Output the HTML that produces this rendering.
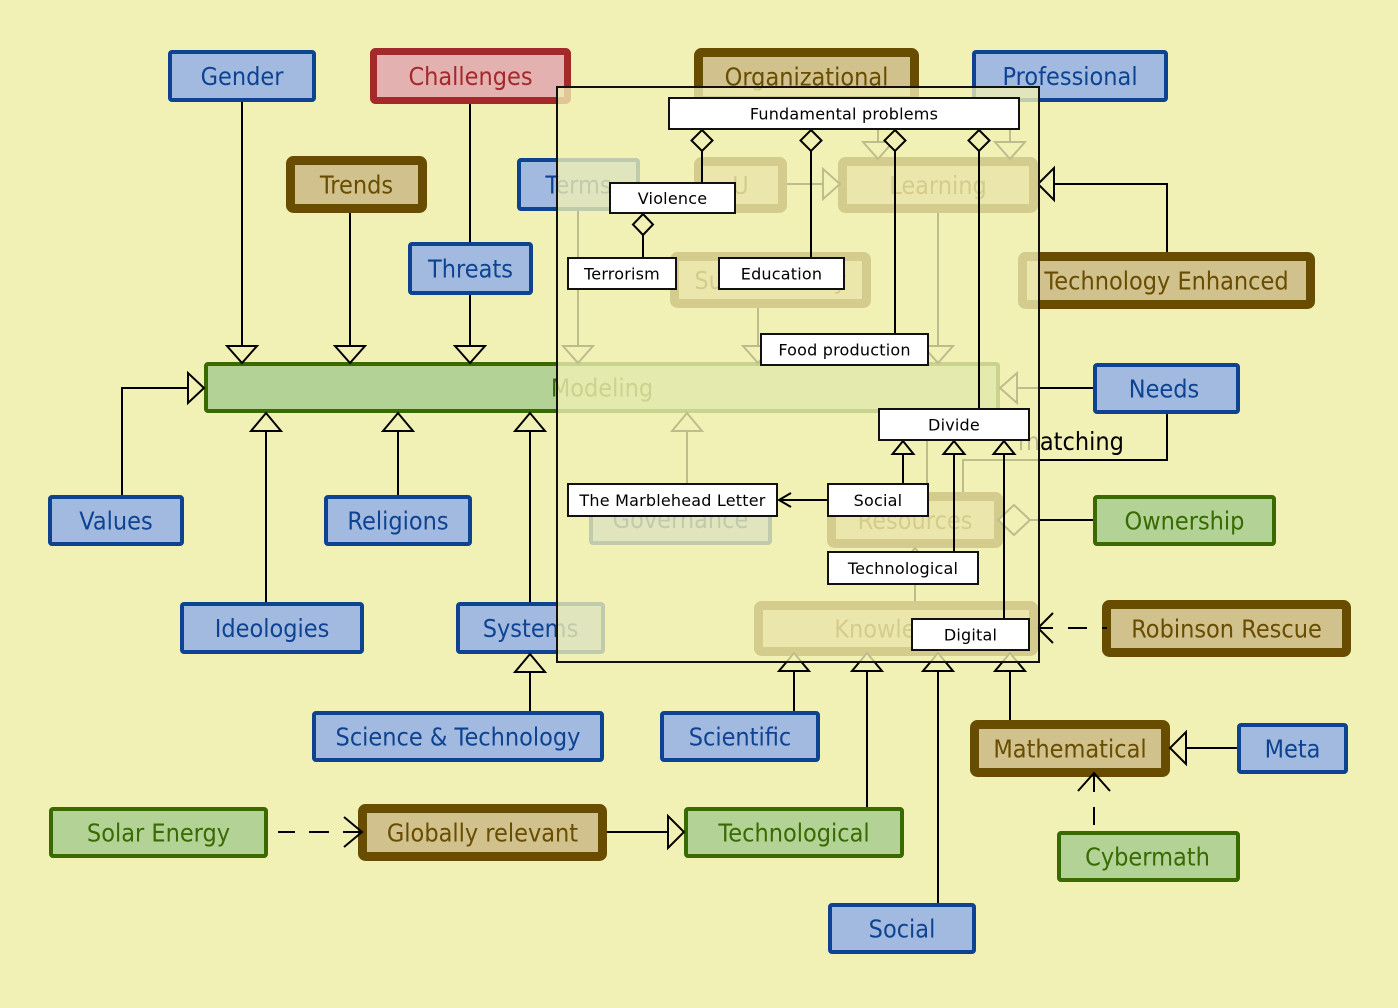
<!DOCTYPE html>
<html>
<head>
<meta charset="utf-8">
<style>
html,body{margin:0;padding:0;background:#f2f1b5;}
svg{display:block;}
.t{font-family:"DejaVu Sans","Liberation Sans",sans-serif;font-size:25px;text-anchor:middle;}
.b{fill:#0e4391;}
.g{fill:#386a00;}
.br{fill:#684c00;}
.r{fill:#a3292b;}
.i{font-family:"DejaVu Sans","Liberation Sans",sans-serif;font-size:16px;text-anchor:middle;fill:#000;letter-spacing:0.2px;}
</style>
</head>
<body>
<svg width="1398" height="1008" viewBox="0 0 1398 1008" xmlns="http://www.w3.org/2000/svg">
<rect x="0" y="0" width="1398" height="1008" fill="#f2f1b5"/>

<!-- Blue nodes -->
<g fill="#a2badf" stroke="#0e4391" stroke-width="4">
<rect x="170" y="52" width="144" height="48" rx="2"/>
<rect x="974" y="52" width="192" height="48" rx="2"/>
<rect x="519" y="160" width="119" height="49" rx="2"/>
<rect x="410" y="244" width="121" height="49" rx="2"/>
<rect x="1095" y="365" width="143" height="47" rx="2"/>
<rect x="50" y="497" width="132" height="47" rx="2"/>
<rect x="326" y="497" width="144" height="47" rx="2"/>
<rect x="591" y="495" width="179" height="48" rx="2"/>
<rect x="182" y="604" width="180" height="48" rx="2"/>
<rect x="458" y="604" width="145" height="48" rx="2"/>
<rect x="314" y="713" width="288" height="47" rx="2"/>
<rect x="662" y="713" width="156" height="47" rx="2"/>
<rect x="1239" y="725" width="107" height="47" rx="2"/>
<rect x="830" y="905" width="144" height="47" rx="2"/>
</g>
<!-- Green nodes -->
<g fill="#b3d396" stroke="#386a00" stroke-width="4">
<rect x="206" y="364" width="792" height="47" rx="2"/>
<rect x="1095" y="497" width="179" height="47" rx="2"/>
<rect x="51" y="809" width="215" height="47" rx="2"/>
<rect x="686" y="809" width="216" height="47" rx="2"/>
<rect x="1059" y="833" width="179" height="47" rx="2"/>
</g>
<!-- Red node -->
<rect x="373.5" y="51.5" width="194" height="49" rx="2" fill="#e4b1b1" stroke="#a3292b" stroke-width="7"/>
<!-- Brown nodes -->
<g fill="#d0c18d" stroke="#684c00" stroke-width="9">
<rect x="290.5" y="160.5" width="132" height="48" rx="3"/>
<rect x="698.5" y="52.5" width="216" height="48" rx="3"/>
<rect x="698.5" y="161.5" width="84" height="47" rx="3"/>
<rect x="842.5" y="161.5" width="191" height="47" rx="3"/>
<rect x="674.5" y="256.5" width="192" height="47" rx="3"/>
<rect x="1022.5" y="256.5" width="288" height="48" rx="3"/>
<rect x="831.5" y="496.5" width="167" height="47" rx="3"/>
<rect x="758.5" y="605.5" width="275" height="46" rx="3"/>
<rect x="1106.5" y="604.5" width="240" height="48" rx="3"/>
<rect x="974.5" y="724.5" width="191" height="48" rx="3"/>
<rect x="362.5" y="808.5" width="240" height="48" rx="3"/>
</g>

<!-- Labels -->
<g class="t">
<text class="b" transform="translate(242 85) scale(.9 1)">Gender</text>
<text class="b" transform="translate(1070 85) scale(.9 1)">Professional</text>
<text class="b" transform="translate(578.5 193.5) scale(.9 1)">Terms</text>
<text class="b" transform="translate(470.5 277.5) scale(.9 1)">Threats</text>
<text class="b" transform="translate(1164 397.5) scale(.9 1)">Needs</text>
<text class="b" transform="translate(116 529.5) scale(.9 1)">Values</text>
<text class="b" transform="translate(398 529.5) scale(.9 1)">Religions</text>
<text class="b" transform="translate(680.5 528) scale(.9 1)">Governance</text>
<text class="b" transform="translate(272 637) scale(.9 1)">Ideologies</text>
<text class="b" transform="translate(530.5 637) scale(.9 1)">Systems</text>
<text class="b" transform="translate(458 745.5) scale(.9 1)">Science &amp; Technology</text>
<text class="b" transform="translate(740 745.5) scale(.9 1)">Scientific</text>
<text class="b" transform="translate(1292.5 757.5) scale(.9 1)">Meta</text>
<text class="b" transform="translate(902 937.5) scale(.9 1)">Social</text>
<text class="g" transform="translate(602 396.5) scale(.9 1)">Modeling</text>
<text class="g" transform="translate(1184.5 529.5) scale(.9 1)">Ownership</text>
<text class="g" transform="translate(158.5 841.5) scale(.9 1)">Solar Energy</text>
<text class="g" transform="translate(794 841.5) scale(.9 1)">Technological</text>
<text class="g" transform="translate(1147.5 865.5) scale(.9 1)">Cybermath</text>
<text class="r" transform="translate(470.5 85) scale(.9 1)">Challenges</text>
<text class="br" transform="translate(356.5 193.5) scale(.9 1)">Trends</text>
<text class="br" transform="translate(806.5 85.5) scale(.9 1)">Organizational</text>
<text class="br" transform="translate(740.5 194) scale(.9 1)">U</text>
<text class="br" transform="translate(938 194) scale(.9 1)">Learning</text>
<text class="br" transform="translate(770.5 289) scale(.9 1)">Sustainability</text>
<text class="br" transform="translate(1166.5 289.5) scale(.9 1)">Technology Enhanced</text>
<text class="br" transform="translate(915 529) scale(.9 1)">Resources</text>
<text class="br" transform="translate(896 637.5) scale(.9 1)">Knowledge</text>
<text class="br" transform="translate(1226.5 637.5) scale(.9 1)">Robinson Rescue</text>
<text class="br" transform="translate(1070 757.5) scale(.9 1)">Mathematical</text>
<text class="br" transform="translate(482.5 841.5) scale(.9 1)">Globally relevant</text>
<text transform="translate(1018 450) scale(.9 1)" style="text-anchor:start;fill:#000">matching</text>
</g>

<!-- Outer connectors -->
<g stroke="#000" stroke-width="2" fill="none">
<path d="M242 102V346M350 213V346M470 104V242M470 295V346M578 211V346M758 308V346M938 213V346M878 105V142M1010 102V142M787 184H823M1167 252V184H1054M1093 388H1017M1167 414V460H963V492M122 495V388H188M266 602V431M398 495V431M530 602V431M687 493V431M927 492V431M915 601V566M1093 520H1030M1087 628H1068M1053 628H1038M1107 628H1102M278 832H295M309 832H329M343 832H362M607 832H668M530 711V672M794 711V671M867 807V671M938 903V671M1010 720V671M1237 748H1186M1094 825V807M1094 792V773"/>
<path d="M1053 613L1038 628L1053 643M344 817L362 832L344 847M1078 791L1094 773L1110 791"/>
</g>
<g stroke="#000" stroke-width="2" fill="#f2f1b5">
<polygon points="227,346 257,346 242,363"/>
<polygon points="335,346 365,346 350,363"/>
<polygon points="455,346 485,346 470,363"/>
<polygon points="563,346 593,346 578,363"/>
<polygon points="743,346 773,346 758,363"/>
<polygon points="923,346 953,346 938,363"/>
<polygon points="863,142 893,142 878,159"/>
<polygon points="995,142 1025,142 1010,159"/>
<polygon points="823,169 823,199 840,184"/>
<polygon points="1054,168 1054,200 1038,184"/>
<polygon points="1017,373 1017,403 1000,388"/>
<polygon points="188,373 188,403 204,388"/>
<polygon points="251,431 281,431 266,413"/>
<polygon points="383,431 413,431 398,413"/>
<polygon points="515,431 545,431 530,413"/>
<polygon points="672,431 702,431 687,413"/>
<polygon points="912,431 942,431 927,413"/>
<polygon points="900,566 930,566 915,548"/>
<polygon points="1030,520 1014,505 998,520 1014,535"/>
<polygon points="668,816 668,848 684,832"/>
<polygon points="515,672 545,672 530,654"/>
<polygon points="779,671 809,671 794,653"/>
<polygon points="852,671 882,671 867,653"/>
<polygon points="923,671 953,671 938,653"/>
<polygon points="995,671 1025,671 1010,653"/>
<polygon points="1186,732 1186,764 1170,748"/>
</g>

<!-- Overlay panel -->
<rect x="557" y="87" width="482" height="575" fill="#f2f1b5" fill-opacity="0.78" stroke="#111" stroke-width="2"/>

<!-- Inner connectors -->
<g stroke="#000" stroke-width="2" fill="none">
<path d="M702 151V182M811 151V257M895 151V333M979 151V408M643 235V257M903 454V483M954 454V551M1004 454V618M827 500H779"/>
<path d="M791 493L779 500L791 507"/>
</g>
<g stroke="#000" stroke-width="2" fill="#f2f1b5">
<polygon points="702,130 712.5,140.5 702,151 691.5,140.5"/>
<polygon points="811,130 821.5,140.5 811,151 800.5,140.5"/>
<polygon points="895,130 905.5,140.5 895,151 884.5,140.5"/>
<polygon points="979,130 989.5,140.5 979,151 968.5,140.5"/>
<polygon points="643,214 653,224.5 643,235 633,224.5"/>
<polygon points="903,441 913.5,454 892.5,454"/>
<polygon points="954,441 964.5,454 943.5,454"/>
<polygon points="1004,441 1014.5,454 993.5,454"/>
</g>

<!-- Inner boxes -->
<g fill="#fff" stroke="#111" stroke-width="2">
<rect x="669" y="98" width="350" height="31"/>
<rect x="610" y="183" width="125" height="30"/>
<rect x="568" y="258" width="108" height="31"/>
<rect x="719" y="258" width="125" height="31"/>
<rect x="761" y="334" width="167" height="31"/>
<rect x="879" y="409" width="150" height="31"/>
<rect x="828" y="484" width="100" height="32"/>
<rect x="568" y="484" width="209" height="32"/>
<rect x="828" y="552" width="150" height="32"/>
<rect x="912" y="619" width="117" height="31"/>
</g>
<g class="i">
<text x="844" y="119.5">Fundamental problems</text>
<text x="672.5" y="204">Violence</text>
<text x="622" y="279.5">Terrorism</text>
<text x="781.5" y="279.5">Education</text>
<text x="844.5" y="355.5">Food production</text>
<text x="954" y="430.5">Divide</text>
<text x="878" y="506">Social</text>
<text x="672.5" y="506">The Marblehead Letter</text>
<text x="903" y="574">Technological</text>
<text x="970.5" y="640.5">Digital</text>
</g>
</svg>
</body>
</html>
